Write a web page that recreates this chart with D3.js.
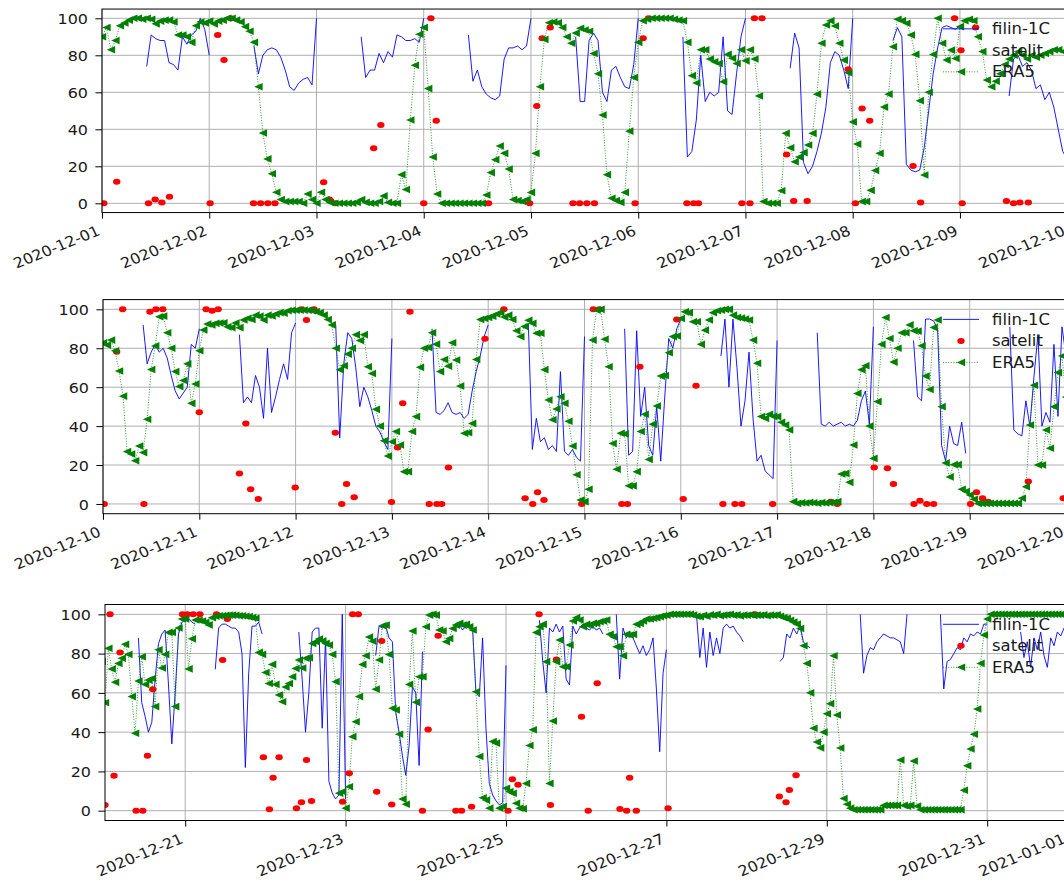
<!DOCTYPE html>
<html>
<head>
<meta charset="utf-8">
<script src="https://cdn.jsdelivr.net/npm/d3@7"></script>
<style>
html, body { margin: 0; padding: 0; background: #fff; }
svg { display: block; font-family: "DejaVu Sans", sans-serif; }
</style>
</head>
<body>
<div id="viz"></div>
<script>
// Cloud cover (%) over December 2020: ceilometer filin-1C, satellite overpasses and ERA5.
// Hourly series are stored one row per day (00:00 .. 23:00 UTC), null = no data.

var T0 = Date.UTC(2020, 11, 1);
var HOUR = 3600 * 1000;
var _ = null;

// ERA5, hourly, 1..31 Dec
var era5Hourly = [
  [90,95,83,88,96,97.5,99,100,100,99.5,100,99.5,97,98.5,99,99,98,91,91,90,87,96,98,97.5],
  [98.5,97,98.5,99,100,100,99,98,95.5,93,87,63,38,24,16,6,2,1,1,1,1,0,5,2],
  [0,6,2,0.5,0,0,0,0,0,0.5,2,0.5,0,0,1,4,0.5,0,0,15.5,7.5,45,74.6,91.4],
  [95,62,25,5,0,0,0,0,0,0,0,0,0,0,4.5,16.6,23.6,31,27,18.5,2,1.5,1,2],
  [5.9,27,63,88.6,97.6,98,97.6,95,90,86.5,92,94.6,93.7,93,81,70,47.7,15.5,2.7,1.5,0.5,5.9,39,68],
  [87,98.7,99.5,100,100,100,100,100,99.5,99,98.7,87,69,65,83,83,78,76.5,75.6,65.7,80.5,78.4,75.6,83],
  [77,83,78,58,1,0,0,0,6.8,37.8,30,22.5,25,27.4,31.5,37.8,59,86.5,96.4,98.7,95.8,86.5,77.4,70.6],
  [44,32,1,1,7,17.7,27,52,59,84.6,99.5,98.7,97.3,91,80.5,55.5,15.3,60,80.5,100,86.5,77.4,82.8,78.3],
  [95.5,98.7,99.4,98.7,90,82,66.6,63,66,70,75,78,80,82,80,78,80,79,80,81,82,83,83,82],
  [82.8,81.6,84.2,78.7,68.3,55.4,26.9,25.7,22.2,29.8,26.4,43.5,69.1,81.2,96.2,96.5,88,80,68,60.3,63.4,72,51.7,61.6],
  [78.7,89.4,92.5,92,92.8,93,93.1,91,90.6,93,90.6,94.5,95.4,94.8,97,96.5,94.5,97,96.6,97.6,98.3,98,99.3,99.5],
  [99.5,99.5,99.6,99.5,99.3,98.8,98.3,97,94.8,92,80,69,71,77,80,87,84,87,70.5,67,48.6,40,32.5,24.6],
  [32,37.2,30.3,16.6,16.6,37.2,44.9,70.2,80,80.4,88,82.1,68,74.2,70.8,82.8,74,60.6,36.3,36.6,41.4,74.2,94.8,95.3],
  [95.8,96.5,97.6,98.3,96,97,94.8,89,86,91.2,94.4,92.8,87.7,87.7,69,53.4,43.3,48.8,55.1,51.7,42.5,29.8,15,2],
  [1.2,7.6,84.2,99.6,100,84.6,70.5,31.1,17.8,36.3,36,9.3,9.3,16.6,37.2,46.1,22.9,41,50.3,65.7,66,77.7,86,86.3],
  [95.3,98.7,98.3,93.6,93.6,82,89.3,94.5,98.3,99.3,99.6,100,100,97,95.8,95.5,95,94.5,84.2,72.3,44.9,44,46.1,45],
  [44.9,42,40.6,38,1.2,0.3,0.6,0.5,0.8,0.6,0.4,0.7,0.5,0.6,0.8,1.2,15.4,15.7,11.1,30.3,56.8,69,71,40],
  [23.4,52.6,82,95.8,85,72.9,80,88,88,92,89,88.8,81.3,65.7,58.8,90.7,94.5,50,21.1,13.9,20.2,20.2,7.6,6.4],
  [4.6,2.4,0.3,0.3,0.3,0.3,0.3,0.3,0.3,0.3,0.3,0.3,0.3,2.9,8.9,40.6,61,20,20,38,28.6,50,67.5,76],
  [55,82.7,72.2,65.4,75,77.6,84.7,79.6,58.1,39.4,66,78.4,64.3,66.5,67.3,53,81.9,72.7,79.6,90.8,90.8,53,93,97.6],
  [97.6,72.2,87.5,97.1,97,96.6,95.9,94.6,98.3,99,99.3,99.3,99.5,99.6,99.6,99.5,99.3,99.3,99,98.8,98.3,98,80.6,79.6],
  [70.4,64.8,74.5,64.3,58.9,55.5,63,64.8,68.2,72.4,76.7,72.7,77.6,77.9,85.2,86,87.4,86.4,85.2,84.4,79.6,65.7,8.9,9.7],
  [1.3,12.2,37.7,45.3,58.1,74.5,78.9,88.4,86.3,61.9,76.7,94.2,94.5,79.6,52.2,51.3,38.9,5.9,3.3,64.3,91.5,55.2,68.2,68.2],
  [93.7,99.6,100,99.6,92,91.5,86,87.7,92.8,94.5,95.4,94.5,94.9,93.7,92,60.6,27.6,6.6,5.4,1.3,35.2,34.4,1.3,2.1],
  [11.4,9.7,8.9,3.8,1.3,1,13.9,33.2,41.2,90.8,93.7,94.9,75.9,13.9,45.7,75.9,86.9,73.3,73.3,84.4,96.6,98.3,97.1,93.7],
  [94.9,94.5,95.4,95.4,96.2,96.6,97.1,89.8,88.6,83.5,83.5,78.9,89.8,89.5,89.8,94.9,95.4,96.6,97.6,97.6,98,98.3,98.8,99.3],
  [99.5,100,100,100,100,100,100,100,99.6,99,98.8,99.5,99,99.8,99.5,100,99.3,99.6,99.8,100,99.5,99.7,99.2,99.6],
  [99.5,99.8,99.4,99.6,99.5,99.7,99.3,99.6,99.5,99.8,99,98.3,98,97,96,95,92.8,84,75,60,42,35,32,40],
  [49.4,54.5,78.9,48.7,31.9,6.2,3.3,1.3,0.5,0.5,0.5,0.5,0.5,0.5,0.5,0.5,0.5,2.7,2.7,2.7,2.7,2.7,25.8,2.7],
  [2.3,2.7,25.3,2.3,0.5,0.5,0.5,0.5,0.5,0.5,0.5,0.5,0.5,0.5,0.5,0.5,0.5,10.4,22.9,31.4,38.9,51.8,75,89.5],
  [97.6,100,100,100,100,100,100,100,100,100,100,100,100,100,100,100,100,100,100,100,100,100,100,100]
];
var era5End = 100; // 2021-01-01 00:00

// filin-1C, hourly, 1..31 Dec
var filinHourly = [
  [_,_,_,_,_,_,_,_,_,_,74,91,89,88,88,76,75,72,90,86,91,93,100,94],
  [80,_,_,_,_,_,_,_,_,_,85,70,80,83,84,83,79,72,63,61,65,67,68,64],
  [100,_,_,_,_,_,_,_,_,_,90,68,72,72,81,76,82,79,91,90,88,88,89,87],
  [100,_,_,_,_,_,_,_,_,_,91,66,72,63,59,57,56,58,78,84,84,85,83,85],
  [100,_,_,_,_,_,_,_,_,_,90,55,55,88,92,88,60,55,72,74,68,63,62,75],
  [100,_,_,_,_,_,_,_,_,_,90,25,28,45,80,55,60,58,60,90,50,48,70,90],
  [100,_,_,_,_,_,_,_,_,_,73,92,84,22,16,20,28,38,52,76,82,80,72,62],
  [100,_,_,_,_,_,_,_,_,88,95,90,21,18,17,18,30,50,70,84,95,96,95,94],
  [96,_,_,_,_,_,_,_,_,_,_,58,78,80,74,76,72,62,64,56,60,52,40,28],
  [24,_,_,_,_,_,_,_,_,_,92,72,78,82,78,80,75,66,58,54,57,60,82,80],
  [90,_,_,_,_,_,_,_,_,_,87,52,55,52,66,60,44,80,47,55,64,72,64,88],
  [93,_,_,_,_,_,_,_,_,_,92,34,72,88,85,70,50,60,55,48,40,37,32,28],
  [85,_,_,_,_,_,_,_,_,_,90,47,46,48,52,47,46,47,44,46,58,68,76,86],
  [92,_,_,_,_,_,_,_,_,_,93,28,44,32,34,28,30,27,68,27,25,28,24,22],
  [86,_,_,_,_,_,_,_,_,_,90,25,27,89,45,60,30,25,50,22,55,85,80,90],
  [95,_,_,_,_,_,_,_,_,_,76,95,60,95,70,40,53,78,44,22,25,17,15,13],
  [84,_,_,_,_,_,_,_,_,_,88,41,40,42,40,41,42,40,41,40,43,53,58,41],
  [91,_,_,_,_,_,_,_,_,_,84,55,53,95,95,94,90,30,22,40,31,30,42,26],
  [_,_,_,_,_,_,_,_,_,_,91,38,36,35,53,40,65,87,40,47,42,82,45,91],
  [76,_,_,_,_,_,_,_,_,_,88,55,48,40,45,67,85,90,92,64,34,60,90,96],
  [97,98,96,95,_,_,_,_,_,72,93,95,95,94,93,93,91,80,22,70,94,94,96,90],
  [_,_,_,_,_,_,_,_,_,_,91,67,40,60,91,93,93,42,88,15,9,6,8,100],
  [6,_,_,_,_,_,_,_,_,79,94,93,94,88,86,50,40,28,18,33,63,60,23,81],
  [_,_,_,_,_,_,_,_,_,_,95,92,94,93,93,60,58,88,42,14,8,5,3,4],
  [74,_,_,_,_,_,_,_,_,_,97,76,60,93,91,95,91,94,67,64,94,90,93,95],
  [93,92,94,92,93,90,_,_,_,100,67,93,88,91,88,84,80,84,79,82,88,62,30,70],
  [82,_,_,_,_,_,_,_,_,100,78,93,73,91,79,88,80,93,95,93,94,91,89,86],
  [_,_,_,_,_,_,_,_,_,_,76,78,90,88,93,90,94,86,84,83,_,_,_,_],
  [_,_,_,_,_,_,_,_,_,_,100,70,79,83,82,86,88,90,89,88,88,87,86,80],
  [100,_,_,_,_,_,_,_,_,_,100,62,76,77,80,83,82,88,86,90,89,91,90,95],
  [95,_,_,_,_,_,_,_,_,_,91,78,86,73,88,82,91,79,73,88,84,91,89,93]
];
var filinEnd = 90;

// satellite overpasses: [hours since 2020-12-01 00:00 UTC, cloud cover %]
var satellite = [
  [0.4,0],[3.3,11.7],[10.4,0],[11.9,2.1],[13.4,0.5],[15.1,3.5],[24.2,0],[25.9,91],[27.3,77.4],[28.8,100],
  [33.9,0],[35.5,0],[37.1,0],[38.7,0],[49.6,11.4],[50.9,2],[52.2,0],[60.8,29.7],[62.4,42.3],[72,0],
  [73.6,100],[74.8,44.6],[86.5,0],[95.7,0],[97.3,52.6],[98.5,89.2],[100.3,95],[105.4,0],[106.9,0],[108.5,0],
  [110.2,0],[119.3,0],[121.1,89.2],[122.3,100],[130.9,0],[132.4,0],[133.5,0],[143.2,0],[145,0],[146,100],
  [147.7,100],[153.2,26.4],[154.8,1.2],[157.8,1.2],[167,72.4],[168.6,0],[170.1,51.3],[171.8,44.6],[181.5,20.2],[183.2,0.5],
  [190.8,100],[192.5,0],[195.5,95],[202.4,1.2],[204,0],[205.4,0.5],[207.3,0.5],
  [216.3,0],[219.4,78.2],[220.9,100],[226.2,0],[227.7,98.8],[229.2,100],[230.9,100],[240,47.1],[241.7,100],[243.2,99.3],
  [244.7,100],[250,15.7],[251.6,41.3],[252.8,7.5],[254.7,2.6],[263.9,8.5],[265.5,100],[266.7,94.5],[268.6,100],[273.9,36.6],
  [275.5,0],[276.7,10.3],[278.6,3.4],[287.9,1],[289.4,29],[290.7,51.7],[292.5,98.8],[297.3,0],[299.2,0],[300.4,0],
  [302.1,18.8],[311.2,84.9],[315.9,100],[321.2,2.9],[323.1,0],[324.3,6],[325.9,2.1],[335.3,0],[338.2,100],[339.7,100],
  [345.3,0],[346.7,0],[349.8,70.5],[359,94.8],[360.6,2.6],[363.8,60.8],[370.5,0],[373.5,0],[375.2,0],[382.9,0],
  [397.4,1.2],[399,0],[408.2,18.8],[411.5,18.3],[413,10.3],[418.1,0],[419.6,1.7],[421.3,0],[423,0],[432.2,0],
  [433.7,6],[435.2,2.9],[436.6,1.2],[446.6,11.5],[455.3,2.9],
  [456,2.9],[457.5,100],[458.7,17.8],[460.5,80.6],[465.3,0],[467.3,0],[468.7,28],[470.3,61.8],[479.2,100],[480.6,100],
  [482.4,100],[484.4,100],[489.4,100],[491.2,76.7],[492.6,97.6],[503.4,27.2],[505.2,0.7],[506.3,16.8],[508.1,27.2],[513.3,1.2],
  [514.8,4.3],[516.3,25.8],[517.8,4.9],[527.1,4.6],[529.1,19],[530.1,100],[531.8,100],[537.3,9.6],[538.8,86.4],[541.8,3.2],
  [551,0],[552.7,41.4],[555.7,89.1],[561,0],[562.7,0],[565.7,2],[576.6,0],[577.9,16],[579.6,13.2],[585.9,100],
  [589.3,2.9],[591.1,77],[598.6,47.8],[600.6,0],[603.3,64.9],[610.1,0.9],[612.1,0],[613,16.8],[615,0],[624.5,1.2],
  [650.5,100],[657.8,7.2],[659.8,4.3],[660.8,10.5],[662.8,18.1]
];

var seriesNames = ["filin-1C", "satelit", "ERA5"];
var yTicks = [0, 20, 40, 60, 80, 100];

// the three panels (layout only)
var panels = [
  {from: "2020-12-01", to: "2020-12-10", every: 1, left: 102, right: 1067.2, top: 9.05, bottom: 212.55},
  {from: "2020-12-10", to: "2020-12-20", every: 1, left: 103, right: 1066, top: 299.6, bottom: 513.7},
  {from: "2020-12-20", to: "2021-01-01", every: 2, left: 105, right: 1067.4, top: 604.5, bottom: 820.5}
];

var SX = 1.1;   // the picture is slightly stretched horizontally, text too
var FS = 14.5;
var parse = d3.utcParse("%Y-%m-%d");
var fmt = d3.utcFormat("%Y-%m-%d");
var tri = "M-4.2,0L4.2,-3.8L4.2,3.8Z";

function toPoints(rows, last) {
  return rows.flat().concat([last]).map(function(v, i) { return {t: new Date(T0 + i * HOUR), v: v}; });
}
var era5 = toPoints(era5Hourly, era5End);
var filin = toPoints(filinHourly, filinEnd);
var sat = satellite.map(function(d) { return {t: new Date(T0 + d[0] * HOUR), v: d[1]}; });

var svg = d3.select("#viz").append("svg").attr("width", 1064).attr("height", 883);

panels.forEach(function(p, k) {
  var t0 = parse(p.from), t1 = parse(p.to);
  var x = d3.scaleUtc().domain([t0, t1]).range([p.left, p.right]);
  var y = d3.scaleLinear().domain([-5, 105]).range([p.bottom, p.top]);
  var ticks = d3.utcDay.every(p.every).range(t0, new Date(+t1 + 1));
  var inView = function(d) { return d.t >= t0 - 2 * HOUR && d.t <= +t1 + 2 * HOUR; };

  var g = svg.append("g");

  // grid
  g.append("g").selectAll("line").data(ticks).join("line")
    .attr("x1", function(d) { return x(d); }).attr("x2", function(d) { return x(d); })
    .attr("y1", p.top).attr("y2", p.bottom)
    .attr("stroke", "#b0b0b0").attr("stroke-width", 1);
  g.append("g").selectAll("line").data(yTicks).join("line")
    .attr("x1", p.left).attr("x2", p.right)
    .attr("y1", function(d) { return y(d); }).attr("y2", function(d) { return y(d); })
    .attr("stroke", "#b0b0b0").attr("stroke-width", 1);

  g.append("clipPath").attr("id", "clip" + k).append("rect")
    .attr("x", p.left).attr("y", p.top)
    .attr("width", p.right - p.left).attr("height", p.bottom - p.top);
  var plot = g.append("g").attr("clip-path", "url(#clip" + k + ")");

  // filin-1C
  plot.append("path").datum(filin.filter(inView))
    .attr("d", d3.line().defined(function(d) { return d.v != null; })
      .x(function(d) { return x(d.t); }).y(function(d) { return y(d.v); }))
    .attr("fill", "none").attr("stroke", "#0000ff").attr("stroke-width", 0.9);

  // satelit
  plot.append("g").selectAll("ellipse").data(sat.filter(inView)).join("ellipse")
    .attr("cx", function(d) { return x(d.t); }).attr("cy", function(d) { return y(d.v); })
    .attr("rx", 3.7).attr("ry", 3).attr("fill", "#ff0000");

  // ERA5
  var e = era5.filter(inView);
  plot.append("path").datum(e)
    .attr("d", d3.line().x(function(d) { return x(d.t); }).y(function(d) { return y(d.v); }))
    .attr("fill", "none").attr("stroke", "#008000").attr("stroke-width", 0.8)
    .attr("stroke-dasharray", "1,1.6");
  plot.append("g").selectAll("path").data(e).join("path")
    .attr("d", tri).attr("fill", "#008000")
    .attr("transform", function(d) { return "translate(" + x(d.t) + "," + y(d.v) + ")"; });

  // frame
  g.append("rect").attr("x", p.left).attr("y", p.top)
    .attr("width", p.right - p.left).attr("height", p.bottom - p.top)
    .attr("fill", "none").attr("stroke", "#000").attr("stroke-width", 1);

  // x axis
  var gx = g.append("g").attr("transform", "translate(0," + p.bottom + ")")
    .call(d3.axisBottom(x).tickValues(ticks).tickSize(6).tickSizeOuter(0).tickFormat(fmt));
  gx.select(".domain").remove();
  gx.selectAll(".tick line").attr("stroke", "#000");
  gx.selectAll(".tick text")
    .attr("x", 0).attr("y", 0).attr("dy", "0.71em")
    .attr("text-anchor", "end")
    .attr("transform", "translate(-6,12.5) scale(" + SX + ",1) rotate(-24)")
    .attr("font-size", FS).attr("font-family", "DejaVu Sans").attr("fill", "#1a1a1a");

  // y axis
  var gy = g.append("g").attr("transform", "translate(" + p.left + ",0)")
    .call(d3.axisLeft(y).tickValues(yTicks).tickSize(6.6).tickSizeOuter(0));
  gy.select(".domain").remove();
  gy.selectAll(".tick line").attr("stroke", "#000");
  gy.selectAll(".tick text")
    .attr("x", 0).attr("dy", "0.36em").attr("text-anchor", "end")
    .attr("transform", "translate(-14,0) scale(" + SX + ",1)")
    .attr("font-size", FS).attr("font-family", "DejaVu Sans").attr("fill", "#1a1a1a");

  // legend (no frame)
  var lg = g.append("g");
  seriesNames.forEach(function(name, i) {
    var ly = p.top + 19.8 + i * 21.5;
    if (i === 0) {
      lg.append("line").attr("x1", 943).attr("x2", 979).attr("y1", ly).attr("y2", ly)
        .attr("stroke", "#0000ff").attr("stroke-width", 0.9);
    } else if (i === 1) {
      lg.append("ellipse").attr("cx", 961).attr("cy", ly).attr("rx", 3.7).attr("ry", 3).attr("fill", "#ff0000");
    } else {
      lg.append("line").attr("x1", 943).attr("x2", 979).attr("y1", ly).attr("y2", ly)
        .attr("stroke", "#008000").attr("stroke-width", 0.8).attr("stroke-dasharray", "1,1.6");
      lg.append("path").attr("d", tri).attr("fill", "#008000")
        .attr("transform", "translate(961," + ly + ")");
    }
    lg.append("text").attr("dy", "0.36em")
      .attr("transform", "translate(992," + ly + ") scale(" + SX + ",1)")
      .attr("font-size", 15).attr("fill", "#1a1a1a").text(name);
  });
});
</script>
</body>
</html>
